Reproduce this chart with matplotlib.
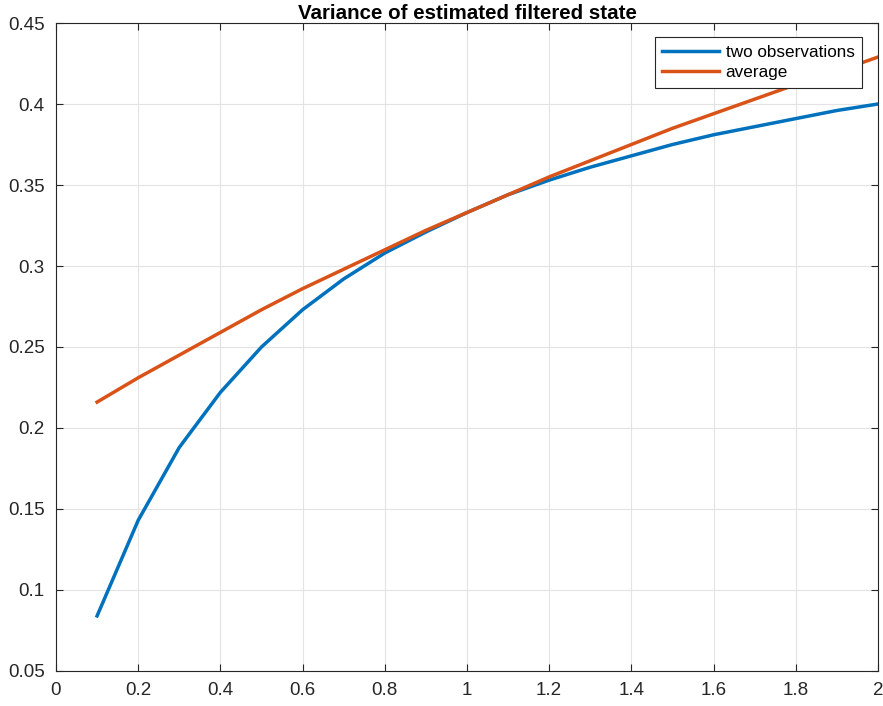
import matplotlib
matplotlib.use('Agg')
import matplotlib.pyplot as plt

plt.rcParams['font.family'] = ['Liberation Sans', 'DejaVu Sans']

x = [0.1, 0.2, 0.3, 0.4, 0.5, 0.6, 0.7, 0.8, 0.9, 1.0,
     1.1, 1.2, 1.3, 1.4, 1.5, 1.6, 1.7, 1.8, 1.9, 2.0]
two_obs = [0.084, 0.143, 0.188, 0.222, 0.250, 0.273, 0.292, 0.308, 0.321, 0.333,
           0.344, 0.353, 0.361, 0.368, 0.375, 0.381, 0.386, 0.391, 0.396, 0.400]
average = [0.216, 0.231, 0.245, 0.259, 0.273, 0.286, 0.298, 0.310, 0.322, 0.333,
           0.344, 0.355, 0.365, 0.375, 0.385, 0.394, 0.403, 0.412, 0.420, 0.429]

fig = plt.figure(figsize=(8.83, 7.06), dpi=100)
ax = fig.add_axes([0.0634, 0.0496, 0.9309, 0.9178])

ax.plot(x, two_obs, color='#0072BD', linewidth=2.5, label='two observations')
ax.plot(x, average, color='#D95319', linewidth=2.5, label='average')

ax.set_xlim(0, 2)
ax.set_ylim(0.05, 0.45)
ax.set_xticks([0, 0.2, 0.4, 0.6, 0.8, 1, 1.2, 1.4, 1.6, 1.8, 2])
ax.set_xticklabels(['0', '0.2', '0.4', '0.6', '0.8', '1', '1.2', '1.4', '1.6', '1.8', '2'])
ax.set_yticks([0.05, 0.1, 0.15, 0.2, 0.25, 0.3, 0.35, 0.4, 0.45])
ax.set_yticklabels(['0.05', '0.1', '0.15', '0.2', '0.25', '0.3', '0.35', '0.4', '0.45'])
ax.grid(True, color='#e3e3e3', linewidth=0.8)
ax.set_axisbelow(True)
ax.tick_params(direction='in', length=5, colors='#262626', labelsize=13.5, top=True, right=True,
               labeltop=False, labelright=False)
ax.tick_params(axis='x', pad=8)
ax.tick_params(axis='y', pad=8)
for s in ax.spines.values():
    s.set_color('#262626')
    s.set_linewidth(0.8)

ax.set_title('Variance of estimated filtered state', fontsize=14.8, fontweight='bold', pad=3)

leg = ax.legend(loc='upper right', bbox_to_anchor=(0.987, 0.986), fontsize=12.3,
                fancybox=False, edgecolor='#262626', framealpha=1,
                handlelength=3.3, borderpad=0.45, labelspacing=0.3, handletextpad=0.4,
                borderaxespad=0.3)
leg.get_frame().set_linewidth(0.8)

plt.savefig('out.png')
